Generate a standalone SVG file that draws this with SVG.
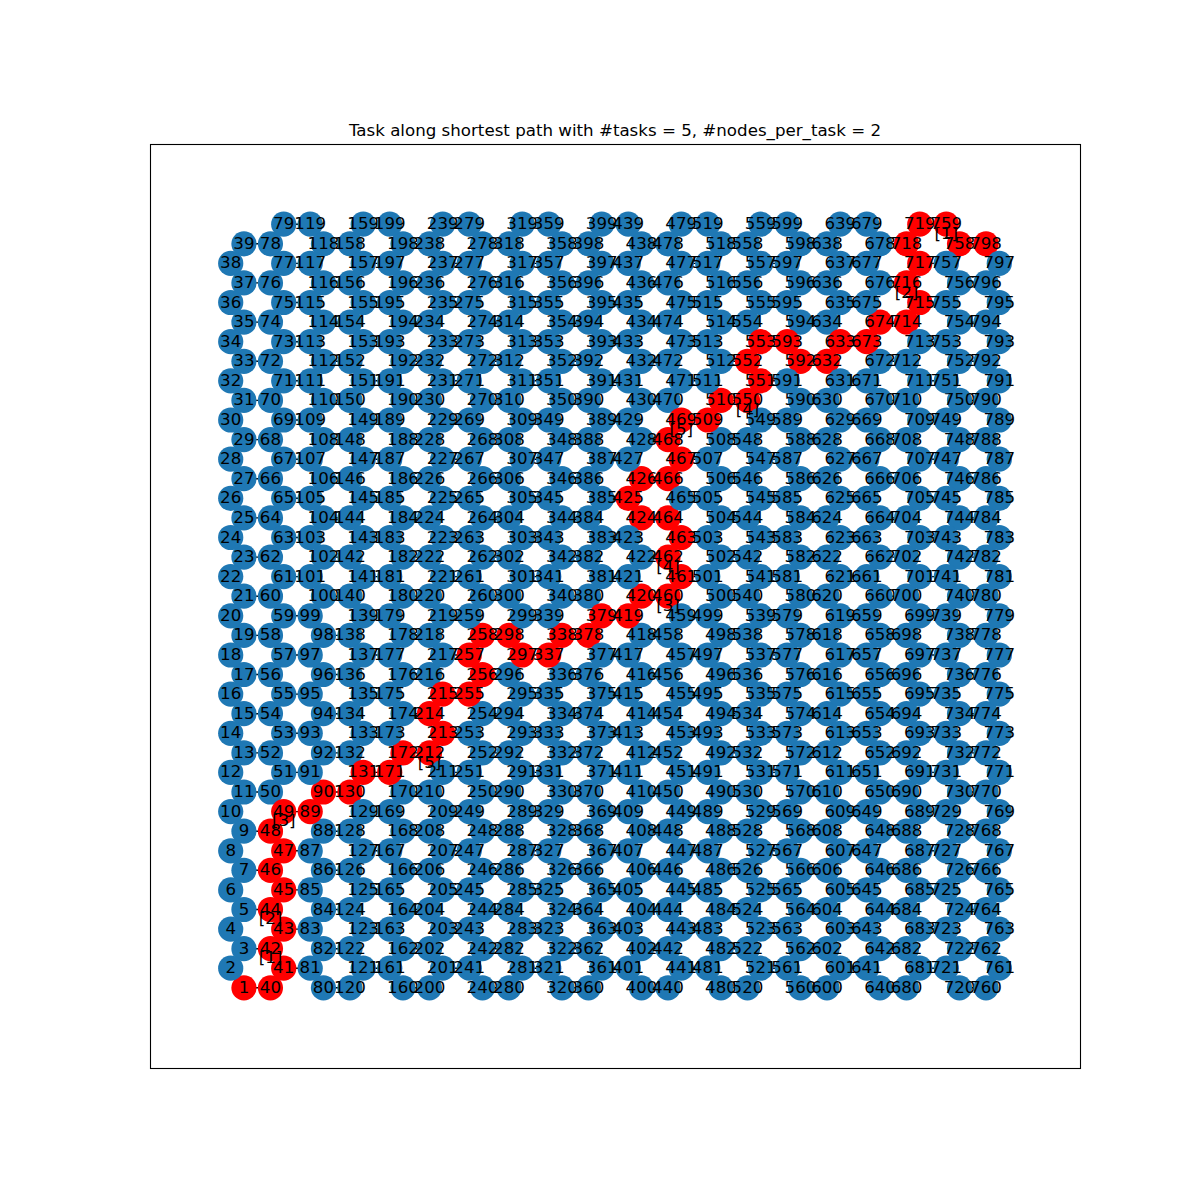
<svg xmlns="http://www.w3.org/2000/svg" xmlns:xlink="http://www.w3.org/1999/xlink" width="1200" height="1200" viewBox="0 0 1200 1200">
<style>
text{font-family:"DejaVu Sans","Liberation Sans",sans-serif;font-size:16.67px;text-anchor:middle;fill:#000}
#nodes circle{r:12.6px;fill:#1f78b4}
#nodes .r circle{fill:#ff0000}
#nodes text{transform:translateY(5px)}
.y0{transform:translateY(987.8px)}.y1{transform:translateY(968.2px)}.y2{transform:translateY(948.7px)}.y3{transform:translateY(929.1px)}.y4{transform:translateY(909.5px)}.y5{transform:translateY(889.9px)}.y6{transform:translateY(870.3px)}.y7{transform:translateY(850.8px)}.y8{transform:translateY(831.2px)}.y9{transform:translateY(811.6px)}
.y10{transform:translateY(792px)}.y11{transform:translateY(772.4px)}.y12{transform:translateY(752.9px)}.y13{transform:translateY(733.3px)}.y14{transform:translateY(713.7px)}.y15{transform:translateY(694.1px)}.y16{transform:translateY(674.5px)}.y17{transform:translateY(655px)}.y18{transform:translateY(635.4px)}.y19{transform:translateY(615.8px)}
.y20{transform:translateY(596.2px)}.y21{transform:translateY(576.6px)}.y22{transform:translateY(557.1px)}.y23{transform:translateY(537.5px)}.y24{transform:translateY(517.9px)}.y25{transform:translateY(498.3px)}.y26{transform:translateY(478.7px)}.y27{transform:translateY(459.2px)}.y28{transform:translateY(439.6px)}.y29{transform:translateY(420px)}
.y30{transform:translateY(400.4px)}.y31{transform:translateY(380.8px)}.y32{transform:translateY(361.3px)}.y33{transform:translateY(341.7px)}.y34{transform:translateY(322.1px)}.y35{transform:translateY(302.5px)}.y36{transform:translateY(282.9px)}.y37{transform:translateY(263.4px)}.y38{transform:translateY(243.8px)}.y39{transform:translateY(224.2px)}
</style>
<defs>
<path id="za" fill="none" stroke="#000" stroke-width="1.39" d="M0 987.8l-13.25-19.58 13.25-19.58 -13.25-19.58 13.25-19.58 -13.25-19.58 13.25-19.58 -13.25-19.58 13.25-19.58 -13.25-19.58 13.25-19.58 -13.25-19.58 13.25-19.58 -13.25-19.58 13.25-19.58 -13.25-19.58 13.25-19.58 -13.25-19.58 13.25-19.58 -13.25-19.58 13.25-19.58 -13.25-19.58 13.25-19.58 -13.25-19.58 13.25-19.58 -13.25-19.58 13.25-19.58 -13.25-19.58 13.25-19.58 -13.25-19.58 13.25-19.58 -13.25-19.58 13.25-19.58 -13.25-19.58 13.25-19.58 -13.25-19.58 13.25-19.58 -13.25-19.58 13.25-19.58"/>
<path id="zb" fill="none" stroke="#000" stroke-width="1.39" d="M0 987.8l-13.25-19.58 13.25-19.58 -13.25-19.58 13.25-19.58 -13.25-19.58 13.25-19.58 -13.25-19.58 13.25-19.58 -13.25-19.58 13.25-19.58 -13.25-19.58 13.25-19.58 -13.25-19.58 13.25-19.58 -13.25-19.58 13.25-19.58 -13.25-19.58 13.25-19.58 -13.25-19.58 13.25-19.58 -13.25-19.58 13.25-19.58 -13.25-19.58 13.25-19.58 -13.25-19.58 13.25-19.58 -13.25-19.58 13.25-19.58 -13.25-19.58 13.25-19.58 -13.25-19.58 13.25-19.58 -13.25-19.58 13.25-19.58 -13.25-19.58 13.25-19.58 -13.25-19.58 13.25-19.58 -13.25-19.58"/>
<path id="re" fill="none" stroke="#000" stroke-width="1.39" d="M0 987.8h26.5M0 948.7h26.5M0 909.5h26.5M0 870.3h26.5M0 831.2h26.5M0 792h26.5M0 752.9h26.5M0 713.7h26.5M0 674.5h26.5M0 635.4h26.5M0 596.2h26.5M0 557.1h26.5M0 517.9h26.5M0 478.7h26.5M0 439.6h26.5M0 400.4h26.5M0 361.3h26.5M0 322.1h26.5M0 282.9h26.5M0 243.8h26.5"/>
<path id="ro" fill="none" stroke="#000" stroke-width="1.39" d="M0 968.2h26.5M0 929.1h26.5M0 889.9h26.5M0 850.8h26.5M0 811.6h26.5M0 772.4h26.5M0 733.3h26.5M0 694.1h26.5M0 655h26.5M0 615.8h26.5M0 576.6h26.5M0 537.5h26.5M0 498.3h26.5M0 459.2h26.5M0 420h26.5M0 380.8h26.5M0 341.7h26.5M0 302.5h26.5M0 263.4h26.5M0 224.2h26.5"/>
</defs>
<rect width="1200" height="1200" fill="#fff"/>
<rect x="150.5" y="144.5" width="930" height="924" fill="none" stroke="#000" stroke-width="1.1"/>
<text id="title" x="615" y="135.7">Task along shortest path with #tasks = 5, #nodes_per_task = 2</text>
<g id="edges">
<use href="#za" x="243.95"/>
<use href="#zb" transform="translate(270.45) scale(-1 1)"/>
<use href="#zb" x="323.46"/>
<use href="#zb" transform="translate(349.96) scale(-1 1)"/>
<use href="#zb" x="402.97"/>
<use href="#zb" transform="translate(429.47) scale(-1 1)"/>
<use href="#zb" x="482.48"/>
<use href="#zb" transform="translate(508.98) scale(-1 1)"/>
<use href="#zb" x="561.99"/>
<use href="#zb" transform="translate(588.49) scale(-1 1)"/>
<use href="#zb" x="641.5"/>
<use href="#zb" transform="translate(668) scale(-1 1)"/>
<use href="#zb" x="721.01"/>
<use href="#zb" transform="translate(747.51) scale(-1 1)"/>
<use href="#zb" x="800.51"/>
<use href="#zb" transform="translate(827.02) scale(-1 1)"/>
<use href="#zb" x="880.02"/>
<use href="#zb" transform="translate(906.53) scale(-1 1)"/>
<use href="#zb" x="959.53"/>
<use href="#za" transform="translate(986.04) scale(-1 1)"/>
<use href="#re" x="243.95"/><use href="#re" x="323.46"/><use href="#re" x="402.97"/><use href="#re" x="482.48"/><use href="#re" x="561.99"/><use href="#re" x="641.5"/><use href="#re" x="721.01"/><use href="#re" x="800.51"/><use href="#re" x="880.02"/><use href="#re" x="959.53"/>
<use href="#ro" x="283.71"/><use href="#ro" x="363.22"/><use href="#ro" x="442.72"/><use href="#ro" x="522.23"/><use href="#ro" x="601.74"/><use href="#ro" x="681.25"/><use href="#ro" x="760.76"/><use href="#ro" x="840.27"/><use href="#ro" x="919.78"/>
</g>
<g id="nodes">
<g transform="translate(243.95)">
<g id="n1" class="y0 r"><circle/><text>1</text></g><g id="n3" class="y2"><circle/><text>3</text></g><g id="n5" class="y4"><circle/><text>5</text></g><g id="n7" class="y6"><circle/><text>7</text></g><g id="n9" class="y8"><circle/><text>9</text></g><g id="n11" class="y10"><circle/><text>11</text></g><g id="n13" class="y12"><circle/><text>13</text></g><g id="n15" class="y14"><circle/><text>15</text></g><g id="n17" class="y16"><circle/><text>17</text></g><g id="n19" class="y18"><circle/><text>19</text></g><g id="n21" class="y20"><circle/><text>21</text></g><g id="n23" class="y22"><circle/><text>23</text></g><g id="n25" class="y24"><circle/><text>25</text></g><g id="n27" class="y26"><circle/><text>27</text></g><g id="n29" class="y28"><circle/><text>29</text></g><g id="n31" class="y30"><circle/><text>31</text></g><g id="n33" class="y32"><circle/><text>33</text></g><g id="n35" class="y34"><circle/><text>35</text></g><g id="n37" class="y36"><circle/><text>37</text></g><g id="n39" class="y38"><circle/><text>39</text></g>
</g>
<g transform="translate(230.7)">
<g id="n2" class="y1"><circle/><text>2</text></g><g id="n4" class="y3"><circle/><text>4</text></g><g id="n6" class="y5"><circle/><text>6</text></g><g id="n8" class="y7"><circle/><text>8</text></g><g id="n10" class="y9"><circle/><text>10</text></g><g id="n12" class="y11"><circle/><text>12</text></g><g id="n14" class="y13"><circle/><text>14</text></g><g id="n16" class="y15"><circle/><text>16</text></g><g id="n18" class="y17"><circle/><text>18</text></g><g id="n20" class="y19"><circle/><text>20</text></g><g id="n22" class="y21"><circle/><text>22</text></g><g id="n24" class="y23"><circle/><text>24</text></g><g id="n26" class="y25"><circle/><text>26</text></g><g id="n28" class="y27"><circle/><text>28</text></g><g id="n30" class="y29"><circle/><text>30</text></g><g id="n32" class="y31"><circle/><text>32</text></g><g id="n34" class="y33"><circle/><text>34</text></g><g id="n36" class="y35"><circle/><text>36</text></g><g id="n38" class="y37"><circle/><text>38</text></g>
</g>
<g transform="translate(270.45)">
<g id="n40" class="y0 r"><circle/><text>40</text></g><g id="n42" class="y2 r"><circle/><text>42</text></g><g id="n44" class="y4 r"><circle/><text>44</text></g><g id="n46" class="y6 r"><circle/><text>46</text></g><g id="n48" class="y8 r"><circle/><text>48</text></g><g id="n50" class="y10"><circle/><text>50</text></g><g id="n52" class="y12"><circle/><text>52</text></g><g id="n54" class="y14"><circle/><text>54</text></g><g id="n56" class="y16"><circle/><text>56</text></g><g id="n58" class="y18"><circle/><text>58</text></g><g id="n60" class="y20"><circle/><text>60</text></g><g id="n62" class="y22"><circle/><text>62</text></g><g id="n64" class="y24"><circle/><text>64</text></g><g id="n66" class="y26"><circle/><text>66</text></g><g id="n68" class="y28"><circle/><text>68</text></g><g id="n70" class="y30"><circle/><text>70</text></g><g id="n72" class="y32"><circle/><text>72</text></g><g id="n74" class="y34"><circle/><text>74</text></g><g id="n76" class="y36"><circle/><text>76</text></g><g id="n78" class="y38"><circle/><text>78</text></g>
</g>
<g transform="translate(283.71)">
<g id="n41" class="y1 r"><circle/><text>41</text></g><g id="n43" class="y3 r"><circle/><text>43</text></g><g id="n45" class="y5 r"><circle/><text>45</text></g><g id="n47" class="y7 r"><circle/><text>47</text></g><g id="n49" class="y9 r"><circle/><text>49</text></g><g id="n51" class="y11"><circle/><text>51</text></g><g id="n53" class="y13"><circle/><text>53</text></g><g id="n55" class="y15"><circle/><text>55</text></g><g id="n57" class="y17"><circle/><text>57</text></g><g id="n59" class="y19"><circle/><text>59</text></g><g id="n61" class="y21"><circle/><text>61</text></g><g id="n63" class="y23"><circle/><text>63</text></g><g id="n65" class="y25"><circle/><text>65</text></g><g id="n67" class="y27"><circle/><text>67</text></g><g id="n69" class="y29"><circle/><text>69</text></g><g id="n71" class="y31"><circle/><text>71</text></g><g id="n73" class="y33"><circle/><text>73</text></g><g id="n75" class="y35"><circle/><text>75</text></g><g id="n77" class="y37"><circle/><text>77</text></g><g id="n79" class="y39"><circle/><text>79</text></g>
</g>
<g transform="translate(323.46)">
<g id="n80" class="y0"><circle/><text>80</text></g><g id="n82" class="y2"><circle/><text>82</text></g><g id="n84" class="y4"><circle/><text>84</text></g><g id="n86" class="y6"><circle/><text>86</text></g><g id="n88" class="y8"><circle/><text>88</text></g><g id="n90" class="y10 r"><circle/><text>90</text></g><g id="n92" class="y12"><circle/><text>92</text></g><g id="n94" class="y14"><circle/><text>94</text></g><g id="n96" class="y16"><circle/><text>96</text></g><g id="n98" class="y18"><circle/><text>98</text></g><g id="n100" class="y20"><circle/><text>100</text></g><g id="n102" class="y22"><circle/><text>102</text></g><g id="n104" class="y24"><circle/><text>104</text></g><g id="n106" class="y26"><circle/><text>106</text></g><g id="n108" class="y28"><circle/><text>108</text></g><g id="n110" class="y30"><circle/><text>110</text></g><g id="n112" class="y32"><circle/><text>112</text></g><g id="n114" class="y34"><circle/><text>114</text></g><g id="n116" class="y36"><circle/><text>116</text></g><g id="n118" class="y38"><circle/><text>118</text></g>
</g>
<g transform="translate(310.21)">
<g id="n81" class="y1"><circle/><text>81</text></g><g id="n83" class="y3"><circle/><text>83</text></g><g id="n85" class="y5"><circle/><text>85</text></g><g id="n87" class="y7"><circle/><text>87</text></g><g id="n89" class="y9 r"><circle/><text>89</text></g><g id="n91" class="y11"><circle/><text>91</text></g><g id="n93" class="y13"><circle/><text>93</text></g><g id="n95" class="y15"><circle/><text>95</text></g><g id="n97" class="y17"><circle/><text>97</text></g><g id="n99" class="y19"><circle/><text>99</text></g><g id="n101" class="y21"><circle/><text>101</text></g><g id="n103" class="y23"><circle/><text>103</text></g><g id="n105" class="y25"><circle/><text>105</text></g><g id="n107" class="y27"><circle/><text>107</text></g><g id="n109" class="y29"><circle/><text>109</text></g><g id="n111" class="y31"><circle/><text>111</text></g><g id="n113" class="y33"><circle/><text>113</text></g><g id="n115" class="y35"><circle/><text>115</text></g><g id="n117" class="y37"><circle/><text>117</text></g><g id="n119" class="y39"><circle/><text>119</text></g>
</g>
<g transform="translate(349.96)">
<g id="n120" class="y0"><circle/><text>120</text></g><g id="n122" class="y2"><circle/><text>122</text></g><g id="n124" class="y4"><circle/><text>124</text></g><g id="n126" class="y6"><circle/><text>126</text></g><g id="n128" class="y8"><circle/><text>128</text></g><g id="n130" class="y10 r"><circle/><text>130</text></g><g id="n132" class="y12"><circle/><text>132</text></g><g id="n134" class="y14"><circle/><text>134</text></g><g id="n136" class="y16"><circle/><text>136</text></g><g id="n138" class="y18"><circle/><text>138</text></g><g id="n140" class="y20"><circle/><text>140</text></g><g id="n142" class="y22"><circle/><text>142</text></g><g id="n144" class="y24"><circle/><text>144</text></g><g id="n146" class="y26"><circle/><text>146</text></g><g id="n148" class="y28"><circle/><text>148</text></g><g id="n150" class="y30"><circle/><text>150</text></g><g id="n152" class="y32"><circle/><text>152</text></g><g id="n154" class="y34"><circle/><text>154</text></g><g id="n156" class="y36"><circle/><text>156</text></g><g id="n158" class="y38"><circle/><text>158</text></g>
</g>
<g transform="translate(363.22)">
<g id="n121" class="y1"><circle/><text>121</text></g><g id="n123" class="y3"><circle/><text>123</text></g><g id="n125" class="y5"><circle/><text>125</text></g><g id="n127" class="y7"><circle/><text>127</text></g><g id="n129" class="y9"><circle/><text>129</text></g><g id="n131" class="y11 r"><circle/><text>131</text></g><g id="n133" class="y13"><circle/><text>133</text></g><g id="n135" class="y15"><circle/><text>135</text></g><g id="n137" class="y17"><circle/><text>137</text></g><g id="n139" class="y19"><circle/><text>139</text></g><g id="n141" class="y21"><circle/><text>141</text></g><g id="n143" class="y23"><circle/><text>143</text></g><g id="n145" class="y25"><circle/><text>145</text></g><g id="n147" class="y27"><circle/><text>147</text></g><g id="n149" class="y29"><circle/><text>149</text></g><g id="n151" class="y31"><circle/><text>151</text></g><g id="n153" class="y33"><circle/><text>153</text></g><g id="n155" class="y35"><circle/><text>155</text></g><g id="n157" class="y37"><circle/><text>157</text></g><g id="n159" class="y39"><circle/><text>159</text></g>
</g>
<g transform="translate(402.97)">
<g id="n160" class="y0"><circle/><text>160</text></g><g id="n162" class="y2"><circle/><text>162</text></g><g id="n164" class="y4"><circle/><text>164</text></g><g id="n166" class="y6"><circle/><text>166</text></g><g id="n168" class="y8"><circle/><text>168</text></g><g id="n170" class="y10"><circle/><text>170</text></g><g id="n172" class="y12 r"><circle/><text>172</text></g><g id="n174" class="y14"><circle/><text>174</text></g><g id="n176" class="y16"><circle/><text>176</text></g><g id="n178" class="y18"><circle/><text>178</text></g><g id="n180" class="y20"><circle/><text>180</text></g><g id="n182" class="y22"><circle/><text>182</text></g><g id="n184" class="y24"><circle/><text>184</text></g><g id="n186" class="y26"><circle/><text>186</text></g><g id="n188" class="y28"><circle/><text>188</text></g><g id="n190" class="y30"><circle/><text>190</text></g><g id="n192" class="y32"><circle/><text>192</text></g><g id="n194" class="y34"><circle/><text>194</text></g><g id="n196" class="y36"><circle/><text>196</text></g><g id="n198" class="y38"><circle/><text>198</text></g>
</g>
<g transform="translate(389.72)">
<g id="n161" class="y1"><circle/><text>161</text></g><g id="n163" class="y3"><circle/><text>163</text></g><g id="n165" class="y5"><circle/><text>165</text></g><g id="n167" class="y7"><circle/><text>167</text></g><g id="n169" class="y9"><circle/><text>169</text></g><g id="n171" class="y11 r"><circle/><text>171</text></g><g id="n173" class="y13"><circle/><text>173</text></g><g id="n175" class="y15"><circle/><text>175</text></g><g id="n177" class="y17"><circle/><text>177</text></g><g id="n179" class="y19"><circle/><text>179</text></g><g id="n181" class="y21"><circle/><text>181</text></g><g id="n183" class="y23"><circle/><text>183</text></g><g id="n185" class="y25"><circle/><text>185</text></g><g id="n187" class="y27"><circle/><text>187</text></g><g id="n189" class="y29"><circle/><text>189</text></g><g id="n191" class="y31"><circle/><text>191</text></g><g id="n193" class="y33"><circle/><text>193</text></g><g id="n195" class="y35"><circle/><text>195</text></g><g id="n197" class="y37"><circle/><text>197</text></g><g id="n199" class="y39"><circle/><text>199</text></g>
</g>
<g transform="translate(429.47)">
<g id="n200" class="y0"><circle/><text>200</text></g><g id="n202" class="y2"><circle/><text>202</text></g><g id="n204" class="y4"><circle/><text>204</text></g><g id="n206" class="y6"><circle/><text>206</text></g><g id="n208" class="y8"><circle/><text>208</text></g><g id="n210" class="y10"><circle/><text>210</text></g><g id="n212" class="y12 r"><circle/><text>212</text></g><g id="n214" class="y14 r"><circle/><text>214</text></g><g id="n216" class="y16"><circle/><text>216</text></g><g id="n218" class="y18"><circle/><text>218</text></g><g id="n220" class="y20"><circle/><text>220</text></g><g id="n222" class="y22"><circle/><text>222</text></g><g id="n224" class="y24"><circle/><text>224</text></g><g id="n226" class="y26"><circle/><text>226</text></g><g id="n228" class="y28"><circle/><text>228</text></g><g id="n230" class="y30"><circle/><text>230</text></g><g id="n232" class="y32"><circle/><text>232</text></g><g id="n234" class="y34"><circle/><text>234</text></g><g id="n236" class="y36"><circle/><text>236</text></g><g id="n238" class="y38"><circle/><text>238</text></g>
</g>
<g transform="translate(442.72)">
<g id="n201" class="y1"><circle/><text>201</text></g><g id="n203" class="y3"><circle/><text>203</text></g><g id="n205" class="y5"><circle/><text>205</text></g><g id="n207" class="y7"><circle/><text>207</text></g><g id="n209" class="y9"><circle/><text>209</text></g><g id="n211" class="y11"><circle/><text>211</text></g><g id="n213" class="y13 r"><circle/><text>213</text></g><g id="n215" class="y15 r"><circle/><text>215</text></g><g id="n217" class="y17"><circle/><text>217</text></g><g id="n219" class="y19"><circle/><text>219</text></g><g id="n221" class="y21"><circle/><text>221</text></g><g id="n223" class="y23"><circle/><text>223</text></g><g id="n225" class="y25"><circle/><text>225</text></g><g id="n227" class="y27"><circle/><text>227</text></g><g id="n229" class="y29"><circle/><text>229</text></g><g id="n231" class="y31"><circle/><text>231</text></g><g id="n233" class="y33"><circle/><text>233</text></g><g id="n235" class="y35"><circle/><text>235</text></g><g id="n237" class="y37"><circle/><text>237</text></g><g id="n239" class="y39"><circle/><text>239</text></g>
</g>
<g transform="translate(482.48)">
<g id="n240" class="y0"><circle/><text>240</text></g><g id="n242" class="y2"><circle/><text>242</text></g><g id="n244" class="y4"><circle/><text>244</text></g><g id="n246" class="y6"><circle/><text>246</text></g><g id="n248" class="y8"><circle/><text>248</text></g><g id="n250" class="y10"><circle/><text>250</text></g><g id="n252" class="y12"><circle/><text>252</text></g><g id="n254" class="y14"><circle/><text>254</text></g><g id="n256" class="y16 r"><circle/><text>256</text></g><g id="n258" class="y18 r"><circle/><text>258</text></g><g id="n260" class="y20"><circle/><text>260</text></g><g id="n262" class="y22"><circle/><text>262</text></g><g id="n264" class="y24"><circle/><text>264</text></g><g id="n266" class="y26"><circle/><text>266</text></g><g id="n268" class="y28"><circle/><text>268</text></g><g id="n270" class="y30"><circle/><text>270</text></g><g id="n272" class="y32"><circle/><text>272</text></g><g id="n274" class="y34"><circle/><text>274</text></g><g id="n276" class="y36"><circle/><text>276</text></g><g id="n278" class="y38"><circle/><text>278</text></g>
</g>
<g transform="translate(469.23)">
<g id="n241" class="y1"><circle/><text>241</text></g><g id="n243" class="y3"><circle/><text>243</text></g><g id="n245" class="y5"><circle/><text>245</text></g><g id="n247" class="y7"><circle/><text>247</text></g><g id="n249" class="y9"><circle/><text>249</text></g><g id="n251" class="y11"><circle/><text>251</text></g><g id="n253" class="y13"><circle/><text>253</text></g><g id="n255" class="y15 r"><circle/><text>255</text></g><g id="n257" class="y17 r"><circle/><text>257</text></g><g id="n259" class="y19"><circle/><text>259</text></g><g id="n261" class="y21"><circle/><text>261</text></g><g id="n263" class="y23"><circle/><text>263</text></g><g id="n265" class="y25"><circle/><text>265</text></g><g id="n267" class="y27"><circle/><text>267</text></g><g id="n269" class="y29"><circle/><text>269</text></g><g id="n271" class="y31"><circle/><text>271</text></g><g id="n273" class="y33"><circle/><text>273</text></g><g id="n275" class="y35"><circle/><text>275</text></g><g id="n277" class="y37"><circle/><text>277</text></g><g id="n279" class="y39"><circle/><text>279</text></g>
</g>
<g transform="translate(508.98)">
<g id="n280" class="y0"><circle/><text>280</text></g><g id="n282" class="y2"><circle/><text>282</text></g><g id="n284" class="y4"><circle/><text>284</text></g><g id="n286" class="y6"><circle/><text>286</text></g><g id="n288" class="y8"><circle/><text>288</text></g><g id="n290" class="y10"><circle/><text>290</text></g><g id="n292" class="y12"><circle/><text>292</text></g><g id="n294" class="y14"><circle/><text>294</text></g><g id="n296" class="y16"><circle/><text>296</text></g><g id="n298" class="y18 r"><circle/><text>298</text></g><g id="n300" class="y20"><circle/><text>300</text></g><g id="n302" class="y22"><circle/><text>302</text></g><g id="n304" class="y24"><circle/><text>304</text></g><g id="n306" class="y26"><circle/><text>306</text></g><g id="n308" class="y28"><circle/><text>308</text></g><g id="n310" class="y30"><circle/><text>310</text></g><g id="n312" class="y32"><circle/><text>312</text></g><g id="n314" class="y34"><circle/><text>314</text></g><g id="n316" class="y36"><circle/><text>316</text></g><g id="n318" class="y38"><circle/><text>318</text></g>
</g>
<g transform="translate(522.23)">
<g id="n281" class="y1"><circle/><text>281</text></g><g id="n283" class="y3"><circle/><text>283</text></g><g id="n285" class="y5"><circle/><text>285</text></g><g id="n287" class="y7"><circle/><text>287</text></g><g id="n289" class="y9"><circle/><text>289</text></g><g id="n291" class="y11"><circle/><text>291</text></g><g id="n293" class="y13"><circle/><text>293</text></g><g id="n295" class="y15"><circle/><text>295</text></g><g id="n297" class="y17 r"><circle/><text>297</text></g><g id="n299" class="y19"><circle/><text>299</text></g><g id="n301" class="y21"><circle/><text>301</text></g><g id="n303" class="y23"><circle/><text>303</text></g><g id="n305" class="y25"><circle/><text>305</text></g><g id="n307" class="y27"><circle/><text>307</text></g><g id="n309" class="y29"><circle/><text>309</text></g><g id="n311" class="y31"><circle/><text>311</text></g><g id="n313" class="y33"><circle/><text>313</text></g><g id="n315" class="y35"><circle/><text>315</text></g><g id="n317" class="y37"><circle/><text>317</text></g><g id="n319" class="y39"><circle/><text>319</text></g>
</g>
<g transform="translate(561.99)">
<g id="n320" class="y0"><circle/><text>320</text></g><g id="n322" class="y2"><circle/><text>322</text></g><g id="n324" class="y4"><circle/><text>324</text></g><g id="n326" class="y6"><circle/><text>326</text></g><g id="n328" class="y8"><circle/><text>328</text></g><g id="n330" class="y10"><circle/><text>330</text></g><g id="n332" class="y12"><circle/><text>332</text></g><g id="n334" class="y14"><circle/><text>334</text></g><g id="n336" class="y16"><circle/><text>336</text></g><g id="n338" class="y18 r"><circle/><text>338</text></g><g id="n340" class="y20"><circle/><text>340</text></g><g id="n342" class="y22"><circle/><text>342</text></g><g id="n344" class="y24"><circle/><text>344</text></g><g id="n346" class="y26"><circle/><text>346</text></g><g id="n348" class="y28"><circle/><text>348</text></g><g id="n350" class="y30"><circle/><text>350</text></g><g id="n352" class="y32"><circle/><text>352</text></g><g id="n354" class="y34"><circle/><text>354</text></g><g id="n356" class="y36"><circle/><text>356</text></g><g id="n358" class="y38"><circle/><text>358</text></g>
</g>
<g transform="translate(548.74)">
<g id="n321" class="y1"><circle/><text>321</text></g><g id="n323" class="y3"><circle/><text>323</text></g><g id="n325" class="y5"><circle/><text>325</text></g><g id="n327" class="y7"><circle/><text>327</text></g><g id="n329" class="y9"><circle/><text>329</text></g><g id="n331" class="y11"><circle/><text>331</text></g><g id="n333" class="y13"><circle/><text>333</text></g><g id="n335" class="y15"><circle/><text>335</text></g><g id="n337" class="y17 r"><circle/><text>337</text></g><g id="n339" class="y19"><circle/><text>339</text></g><g id="n341" class="y21"><circle/><text>341</text></g><g id="n343" class="y23"><circle/><text>343</text></g><g id="n345" class="y25"><circle/><text>345</text></g><g id="n347" class="y27"><circle/><text>347</text></g><g id="n349" class="y29"><circle/><text>349</text></g><g id="n351" class="y31"><circle/><text>351</text></g><g id="n353" class="y33"><circle/><text>353</text></g><g id="n355" class="y35"><circle/><text>355</text></g><g id="n357" class="y37"><circle/><text>357</text></g><g id="n359" class="y39"><circle/><text>359</text></g>
</g>
<g transform="translate(588.49)">
<g id="n360" class="y0"><circle/><text>360</text></g><g id="n362" class="y2"><circle/><text>362</text></g><g id="n364" class="y4"><circle/><text>364</text></g><g id="n366" class="y6"><circle/><text>366</text></g><g id="n368" class="y8"><circle/><text>368</text></g><g id="n370" class="y10"><circle/><text>370</text></g><g id="n372" class="y12"><circle/><text>372</text></g><g id="n374" class="y14"><circle/><text>374</text></g><g id="n376" class="y16"><circle/><text>376</text></g><g id="n378" class="y18 r"><circle/><text>378</text></g><g id="n380" class="y20"><circle/><text>380</text></g><g id="n382" class="y22"><circle/><text>382</text></g><g id="n384" class="y24"><circle/><text>384</text></g><g id="n386" class="y26"><circle/><text>386</text></g><g id="n388" class="y28"><circle/><text>388</text></g><g id="n390" class="y30"><circle/><text>390</text></g><g id="n392" class="y32"><circle/><text>392</text></g><g id="n394" class="y34"><circle/><text>394</text></g><g id="n396" class="y36"><circle/><text>396</text></g><g id="n398" class="y38"><circle/><text>398</text></g>
</g>
<g transform="translate(601.74)">
<g id="n361" class="y1"><circle/><text>361</text></g><g id="n363" class="y3"><circle/><text>363</text></g><g id="n365" class="y5"><circle/><text>365</text></g><g id="n367" class="y7"><circle/><text>367</text></g><g id="n369" class="y9"><circle/><text>369</text></g><g id="n371" class="y11"><circle/><text>371</text></g><g id="n373" class="y13"><circle/><text>373</text></g><g id="n375" class="y15"><circle/><text>375</text></g><g id="n377" class="y17"><circle/><text>377</text></g><g id="n379" class="y19 r"><circle/><text>379</text></g><g id="n381" class="y21"><circle/><text>381</text></g><g id="n383" class="y23"><circle/><text>383</text></g><g id="n385" class="y25"><circle/><text>385</text></g><g id="n387" class="y27"><circle/><text>387</text></g><g id="n389" class="y29"><circle/><text>389</text></g><g id="n391" class="y31"><circle/><text>391</text></g><g id="n393" class="y33"><circle/><text>393</text></g><g id="n395" class="y35"><circle/><text>395</text></g><g id="n397" class="y37"><circle/><text>397</text></g><g id="n399" class="y39"><circle/><text>399</text></g>
</g>
<g transform="translate(641.5)">
<g id="n400" class="y0"><circle/><text>400</text></g><g id="n402" class="y2"><circle/><text>402</text></g><g id="n404" class="y4"><circle/><text>404</text></g><g id="n406" class="y6"><circle/><text>406</text></g><g id="n408" class="y8"><circle/><text>408</text></g><g id="n410" class="y10"><circle/><text>410</text></g><g id="n412" class="y12"><circle/><text>412</text></g><g id="n414" class="y14"><circle/><text>414</text></g><g id="n416" class="y16"><circle/><text>416</text></g><g id="n418" class="y18"><circle/><text>418</text></g><g id="n420" class="y20 r"><circle/><text>420</text></g><g id="n422" class="y22"><circle/><text>422</text></g><g id="n424" class="y24 r"><circle/><text>424</text></g><g id="n426" class="y26 r"><circle/><text>426</text></g><g id="n428" class="y28"><circle/><text>428</text></g><g id="n430" class="y30"><circle/><text>430</text></g><g id="n432" class="y32"><circle/><text>432</text></g><g id="n434" class="y34"><circle/><text>434</text></g><g id="n436" class="y36"><circle/><text>436</text></g><g id="n438" class="y38"><circle/><text>438</text></g>
</g>
<g transform="translate(628.25)">
<g id="n401" class="y1"><circle/><text>401</text></g><g id="n403" class="y3"><circle/><text>403</text></g><g id="n405" class="y5"><circle/><text>405</text></g><g id="n407" class="y7"><circle/><text>407</text></g><g id="n409" class="y9"><circle/><text>409</text></g><g id="n411" class="y11"><circle/><text>411</text></g><g id="n413" class="y13"><circle/><text>413</text></g><g id="n415" class="y15"><circle/><text>415</text></g><g id="n417" class="y17"><circle/><text>417</text></g><g id="n419" class="y19 r"><circle/><text>419</text></g><g id="n421" class="y21"><circle/><text>421</text></g><g id="n423" class="y23"><circle/><text>423</text></g><g id="n425" class="y25 r"><circle/><text>425</text></g><g id="n427" class="y27"><circle/><text>427</text></g><g id="n429" class="y29"><circle/><text>429</text></g><g id="n431" class="y31"><circle/><text>431</text></g><g id="n433" class="y33"><circle/><text>433</text></g><g id="n435" class="y35"><circle/><text>435</text></g><g id="n437" class="y37"><circle/><text>437</text></g><g id="n439" class="y39"><circle/><text>439</text></g>
</g>
<g transform="translate(668)">
<g id="n440" class="y0"><circle/><text>440</text></g><g id="n442" class="y2"><circle/><text>442</text></g><g id="n444" class="y4"><circle/><text>444</text></g><g id="n446" class="y6"><circle/><text>446</text></g><g id="n448" class="y8"><circle/><text>448</text></g><g id="n450" class="y10"><circle/><text>450</text></g><g id="n452" class="y12"><circle/><text>452</text></g><g id="n454" class="y14"><circle/><text>454</text></g><g id="n456" class="y16"><circle/><text>456</text></g><g id="n458" class="y18"><circle/><text>458</text></g><g id="n460" class="y20 r"><circle/><text>460</text></g><g id="n462" class="y22 r"><circle/><text>462</text></g><g id="n464" class="y24 r"><circle/><text>464</text></g><g id="n466" class="y26 r"><circle/><text>466</text></g><g id="n468" class="y28 r"><circle/><text>468</text></g><g id="n470" class="y30"><circle/><text>470</text></g><g id="n472" class="y32"><circle/><text>472</text></g><g id="n474" class="y34"><circle/><text>474</text></g><g id="n476" class="y36"><circle/><text>476</text></g><g id="n478" class="y38"><circle/><text>478</text></g>
</g>
<g transform="translate(681.25)">
<g id="n441" class="y1"><circle/><text>441</text></g><g id="n443" class="y3"><circle/><text>443</text></g><g id="n445" class="y5"><circle/><text>445</text></g><g id="n447" class="y7"><circle/><text>447</text></g><g id="n449" class="y9"><circle/><text>449</text></g><g id="n451" class="y11"><circle/><text>451</text></g><g id="n453" class="y13"><circle/><text>453</text></g><g id="n455" class="y15"><circle/><text>455</text></g><g id="n457" class="y17"><circle/><text>457</text></g><g id="n459" class="y19"><circle/><text>459</text></g><g id="n461" class="y21 r"><circle/><text>461</text></g><g id="n463" class="y23 r"><circle/><text>463</text></g><g id="n465" class="y25"><circle/><text>465</text></g><g id="n467" class="y27 r"><circle/><text>467</text></g><g id="n469" class="y29 r"><circle/><text>469</text></g><g id="n471" class="y31"><circle/><text>471</text></g><g id="n473" class="y33"><circle/><text>473</text></g><g id="n475" class="y35"><circle/><text>475</text></g><g id="n477" class="y37"><circle/><text>477</text></g><g id="n479" class="y39"><circle/><text>479</text></g>
</g>
<g transform="translate(721.01)">
<g id="n480" class="y0"><circle/><text>480</text></g><g id="n482" class="y2"><circle/><text>482</text></g><g id="n484" class="y4"><circle/><text>484</text></g><g id="n486" class="y6"><circle/><text>486</text></g><g id="n488" class="y8"><circle/><text>488</text></g><g id="n490" class="y10"><circle/><text>490</text></g><g id="n492" class="y12"><circle/><text>492</text></g><g id="n494" class="y14"><circle/><text>494</text></g><g id="n496" class="y16"><circle/><text>496</text></g><g id="n498" class="y18"><circle/><text>498</text></g><g id="n500" class="y20"><circle/><text>500</text></g><g id="n502" class="y22"><circle/><text>502</text></g><g id="n504" class="y24"><circle/><text>504</text></g><g id="n506" class="y26"><circle/><text>506</text></g><g id="n508" class="y28"><circle/><text>508</text></g><g id="n510" class="y30 r"><circle/><text>510</text></g><g id="n512" class="y32"><circle/><text>512</text></g><g id="n514" class="y34"><circle/><text>514</text></g><g id="n516" class="y36"><circle/><text>516</text></g><g id="n518" class="y38"><circle/><text>518</text></g>
</g>
<g transform="translate(707.75)">
<g id="n481" class="y1"><circle/><text>481</text></g><g id="n483" class="y3"><circle/><text>483</text></g><g id="n485" class="y5"><circle/><text>485</text></g><g id="n487" class="y7"><circle/><text>487</text></g><g id="n489" class="y9"><circle/><text>489</text></g><g id="n491" class="y11"><circle/><text>491</text></g><g id="n493" class="y13"><circle/><text>493</text></g><g id="n495" class="y15"><circle/><text>495</text></g><g id="n497" class="y17"><circle/><text>497</text></g><g id="n499" class="y19"><circle/><text>499</text></g><g id="n501" class="y21"><circle/><text>501</text></g><g id="n503" class="y23"><circle/><text>503</text></g><g id="n505" class="y25"><circle/><text>505</text></g><g id="n507" class="y27"><circle/><text>507</text></g><g id="n509" class="y29 r"><circle/><text>509</text></g><g id="n511" class="y31"><circle/><text>511</text></g><g id="n513" class="y33"><circle/><text>513</text></g><g id="n515" class="y35"><circle/><text>515</text></g><g id="n517" class="y37"><circle/><text>517</text></g><g id="n519" class="y39"><circle/><text>519</text></g>
</g>
<g transform="translate(747.51)">
<g id="n520" class="y0"><circle/><text>520</text></g><g id="n522" class="y2"><circle/><text>522</text></g><g id="n524" class="y4"><circle/><text>524</text></g><g id="n526" class="y6"><circle/><text>526</text></g><g id="n528" class="y8"><circle/><text>528</text></g><g id="n530" class="y10"><circle/><text>530</text></g><g id="n532" class="y12"><circle/><text>532</text></g><g id="n534" class="y14"><circle/><text>534</text></g><g id="n536" class="y16"><circle/><text>536</text></g><g id="n538" class="y18"><circle/><text>538</text></g><g id="n540" class="y20"><circle/><text>540</text></g><g id="n542" class="y22"><circle/><text>542</text></g><g id="n544" class="y24"><circle/><text>544</text></g><g id="n546" class="y26"><circle/><text>546</text></g><g id="n548" class="y28"><circle/><text>548</text></g><g id="n550" class="y30 r"><circle/><text>550</text></g><g id="n552" class="y32 r"><circle/><text>552</text></g><g id="n554" class="y34"><circle/><text>554</text></g><g id="n556" class="y36"><circle/><text>556</text></g><g id="n558" class="y38"><circle/><text>558</text></g>
</g>
<g transform="translate(760.76)">
<g id="n521" class="y1"><circle/><text>521</text></g><g id="n523" class="y3"><circle/><text>523</text></g><g id="n525" class="y5"><circle/><text>525</text></g><g id="n527" class="y7"><circle/><text>527</text></g><g id="n529" class="y9"><circle/><text>529</text></g><g id="n531" class="y11"><circle/><text>531</text></g><g id="n533" class="y13"><circle/><text>533</text></g><g id="n535" class="y15"><circle/><text>535</text></g><g id="n537" class="y17"><circle/><text>537</text></g><g id="n539" class="y19"><circle/><text>539</text></g><g id="n541" class="y21"><circle/><text>541</text></g><g id="n543" class="y23"><circle/><text>543</text></g><g id="n545" class="y25"><circle/><text>545</text></g><g id="n547" class="y27"><circle/><text>547</text></g><g id="n549" class="y29"><circle/><text>549</text></g><g id="n551" class="y31 r"><circle/><text>551</text></g><g id="n553" class="y33 r"><circle/><text>553</text></g><g id="n555" class="y35"><circle/><text>555</text></g><g id="n557" class="y37"><circle/><text>557</text></g><g id="n559" class="y39"><circle/><text>559</text></g>
</g>
<g transform="translate(800.51)">
<g id="n560" class="y0"><circle/><text>560</text></g><g id="n562" class="y2"><circle/><text>562</text></g><g id="n564" class="y4"><circle/><text>564</text></g><g id="n566" class="y6"><circle/><text>566</text></g><g id="n568" class="y8"><circle/><text>568</text></g><g id="n570" class="y10"><circle/><text>570</text></g><g id="n572" class="y12"><circle/><text>572</text></g><g id="n574" class="y14"><circle/><text>574</text></g><g id="n576" class="y16"><circle/><text>576</text></g><g id="n578" class="y18"><circle/><text>578</text></g><g id="n580" class="y20"><circle/><text>580</text></g><g id="n582" class="y22"><circle/><text>582</text></g><g id="n584" class="y24"><circle/><text>584</text></g><g id="n586" class="y26"><circle/><text>586</text></g><g id="n588" class="y28"><circle/><text>588</text></g><g id="n590" class="y30"><circle/><text>590</text></g><g id="n592" class="y32 r"><circle/><text>592</text></g><g id="n594" class="y34"><circle/><text>594</text></g><g id="n596" class="y36"><circle/><text>596</text></g><g id="n598" class="y38"><circle/><text>598</text></g>
</g>
<g transform="translate(787.26)">
<g id="n561" class="y1"><circle/><text>561</text></g><g id="n563" class="y3"><circle/><text>563</text></g><g id="n565" class="y5"><circle/><text>565</text></g><g id="n567" class="y7"><circle/><text>567</text></g><g id="n569" class="y9"><circle/><text>569</text></g><g id="n571" class="y11"><circle/><text>571</text></g><g id="n573" class="y13"><circle/><text>573</text></g><g id="n575" class="y15"><circle/><text>575</text></g><g id="n577" class="y17"><circle/><text>577</text></g><g id="n579" class="y19"><circle/><text>579</text></g><g id="n581" class="y21"><circle/><text>581</text></g><g id="n583" class="y23"><circle/><text>583</text></g><g id="n585" class="y25"><circle/><text>585</text></g><g id="n587" class="y27"><circle/><text>587</text></g><g id="n589" class="y29"><circle/><text>589</text></g><g id="n591" class="y31"><circle/><text>591</text></g><g id="n593" class="y33 r"><circle/><text>593</text></g><g id="n595" class="y35"><circle/><text>595</text></g><g id="n597" class="y37"><circle/><text>597</text></g><g id="n599" class="y39"><circle/><text>599</text></g>
</g>
<g transform="translate(827.02)">
<g id="n600" class="y0"><circle/><text>600</text></g><g id="n602" class="y2"><circle/><text>602</text></g><g id="n604" class="y4"><circle/><text>604</text></g><g id="n606" class="y6"><circle/><text>606</text></g><g id="n608" class="y8"><circle/><text>608</text></g><g id="n610" class="y10"><circle/><text>610</text></g><g id="n612" class="y12"><circle/><text>612</text></g><g id="n614" class="y14"><circle/><text>614</text></g><g id="n616" class="y16"><circle/><text>616</text></g><g id="n618" class="y18"><circle/><text>618</text></g><g id="n620" class="y20"><circle/><text>620</text></g><g id="n622" class="y22"><circle/><text>622</text></g><g id="n624" class="y24"><circle/><text>624</text></g><g id="n626" class="y26"><circle/><text>626</text></g><g id="n628" class="y28"><circle/><text>628</text></g><g id="n630" class="y30"><circle/><text>630</text></g><g id="n632" class="y32 r"><circle/><text>632</text></g><g id="n634" class="y34"><circle/><text>634</text></g><g id="n636" class="y36"><circle/><text>636</text></g><g id="n638" class="y38"><circle/><text>638</text></g>
</g>
<g transform="translate(840.27)">
<g id="n601" class="y1"><circle/><text>601</text></g><g id="n603" class="y3"><circle/><text>603</text></g><g id="n605" class="y5"><circle/><text>605</text></g><g id="n607" class="y7"><circle/><text>607</text></g><g id="n609" class="y9"><circle/><text>609</text></g><g id="n611" class="y11"><circle/><text>611</text></g><g id="n613" class="y13"><circle/><text>613</text></g><g id="n615" class="y15"><circle/><text>615</text></g><g id="n617" class="y17"><circle/><text>617</text></g><g id="n619" class="y19"><circle/><text>619</text></g><g id="n621" class="y21"><circle/><text>621</text></g><g id="n623" class="y23"><circle/><text>623</text></g><g id="n625" class="y25"><circle/><text>625</text></g><g id="n627" class="y27"><circle/><text>627</text></g><g id="n629" class="y29"><circle/><text>629</text></g><g id="n631" class="y31"><circle/><text>631</text></g><g id="n633" class="y33 r"><circle/><text>633</text></g><g id="n635" class="y35"><circle/><text>635</text></g><g id="n637" class="y37"><circle/><text>637</text></g><g id="n639" class="y39"><circle/><text>639</text></g>
</g>
<g transform="translate(880.02)">
<g id="n640" class="y0"><circle/><text>640</text></g><g id="n642" class="y2"><circle/><text>642</text></g><g id="n644" class="y4"><circle/><text>644</text></g><g id="n646" class="y6"><circle/><text>646</text></g><g id="n648" class="y8"><circle/><text>648</text></g><g id="n650" class="y10"><circle/><text>650</text></g><g id="n652" class="y12"><circle/><text>652</text></g><g id="n654" class="y14"><circle/><text>654</text></g><g id="n656" class="y16"><circle/><text>656</text></g><g id="n658" class="y18"><circle/><text>658</text></g><g id="n660" class="y20"><circle/><text>660</text></g><g id="n662" class="y22"><circle/><text>662</text></g><g id="n664" class="y24"><circle/><text>664</text></g><g id="n666" class="y26"><circle/><text>666</text></g><g id="n668" class="y28"><circle/><text>668</text></g><g id="n670" class="y30"><circle/><text>670</text></g><g id="n672" class="y32"><circle/><text>672</text></g><g id="n674" class="y34 r"><circle/><text>674</text></g><g id="n676" class="y36"><circle/><text>676</text></g><g id="n678" class="y38"><circle/><text>678</text></g>
</g>
<g transform="translate(866.77)">
<g id="n641" class="y1"><circle/><text>641</text></g><g id="n643" class="y3"><circle/><text>643</text></g><g id="n645" class="y5"><circle/><text>645</text></g><g id="n647" class="y7"><circle/><text>647</text></g><g id="n649" class="y9"><circle/><text>649</text></g><g id="n651" class="y11"><circle/><text>651</text></g><g id="n653" class="y13"><circle/><text>653</text></g><g id="n655" class="y15"><circle/><text>655</text></g><g id="n657" class="y17"><circle/><text>657</text></g><g id="n659" class="y19"><circle/><text>659</text></g><g id="n661" class="y21"><circle/><text>661</text></g><g id="n663" class="y23"><circle/><text>663</text></g><g id="n665" class="y25"><circle/><text>665</text></g><g id="n667" class="y27"><circle/><text>667</text></g><g id="n669" class="y29"><circle/><text>669</text></g><g id="n671" class="y31"><circle/><text>671</text></g><g id="n673" class="y33 r"><circle/><text>673</text></g><g id="n675" class="y35"><circle/><text>675</text></g><g id="n677" class="y37"><circle/><text>677</text></g><g id="n679" class="y39"><circle/><text>679</text></g>
</g>
<g transform="translate(906.53)">
<g id="n680" class="y0"><circle/><text>680</text></g><g id="n682" class="y2"><circle/><text>682</text></g><g id="n684" class="y4"><circle/><text>684</text></g><g id="n686" class="y6"><circle/><text>686</text></g><g id="n688" class="y8"><circle/><text>688</text></g><g id="n690" class="y10"><circle/><text>690</text></g><g id="n692" class="y12"><circle/><text>692</text></g><g id="n694" class="y14"><circle/><text>694</text></g><g id="n696" class="y16"><circle/><text>696</text></g><g id="n698" class="y18"><circle/><text>698</text></g><g id="n700" class="y20"><circle/><text>700</text></g><g id="n702" class="y22"><circle/><text>702</text></g><g id="n704" class="y24"><circle/><text>704</text></g><g id="n706" class="y26"><circle/><text>706</text></g><g id="n708" class="y28"><circle/><text>708</text></g><g id="n710" class="y30"><circle/><text>710</text></g><g id="n712" class="y32"><circle/><text>712</text></g><g id="n714" class="y34 r"><circle/><text>714</text></g><g id="n716" class="y36 r"><circle/><text>716</text></g><g id="n718" class="y38 r"><circle/><text>718</text></g>
</g>
<g transform="translate(919.78)">
<g id="n681" class="y1"><circle/><text>681</text></g><g id="n683" class="y3"><circle/><text>683</text></g><g id="n685" class="y5"><circle/><text>685</text></g><g id="n687" class="y7"><circle/><text>687</text></g><g id="n689" class="y9"><circle/><text>689</text></g><g id="n691" class="y11"><circle/><text>691</text></g><g id="n693" class="y13"><circle/><text>693</text></g><g id="n695" class="y15"><circle/><text>695</text></g><g id="n697" class="y17"><circle/><text>697</text></g><g id="n699" class="y19"><circle/><text>699</text></g><g id="n701" class="y21"><circle/><text>701</text></g><g id="n703" class="y23"><circle/><text>703</text></g><g id="n705" class="y25"><circle/><text>705</text></g><g id="n707" class="y27"><circle/><text>707</text></g><g id="n709" class="y29"><circle/><text>709</text></g><g id="n711" class="y31"><circle/><text>711</text></g><g id="n713" class="y33"><circle/><text>713</text></g><g id="n715" class="y35 r"><circle/><text>715</text></g><g id="n717" class="y37 r"><circle/><text>717</text></g><g id="n719" class="y39 r"><circle/><text>719</text></g>
</g>
<g transform="translate(959.53)">
<g id="n720" class="y0"><circle/><text>720</text></g><g id="n722" class="y2"><circle/><text>722</text></g><g id="n724" class="y4"><circle/><text>724</text></g><g id="n726" class="y6"><circle/><text>726</text></g><g id="n728" class="y8"><circle/><text>728</text></g><g id="n730" class="y10"><circle/><text>730</text></g><g id="n732" class="y12"><circle/><text>732</text></g><g id="n734" class="y14"><circle/><text>734</text></g><g id="n736" class="y16"><circle/><text>736</text></g><g id="n738" class="y18"><circle/><text>738</text></g><g id="n740" class="y20"><circle/><text>740</text></g><g id="n742" class="y22"><circle/><text>742</text></g><g id="n744" class="y24"><circle/><text>744</text></g><g id="n746" class="y26"><circle/><text>746</text></g><g id="n748" class="y28"><circle/><text>748</text></g><g id="n750" class="y30"><circle/><text>750</text></g><g id="n752" class="y32"><circle/><text>752</text></g><g id="n754" class="y34"><circle/><text>754</text></g><g id="n756" class="y36"><circle/><text>756</text></g><g id="n758" class="y38 r"><circle/><text>758</text></g>
</g>
<g transform="translate(946.28)">
<g id="n721" class="y1"><circle/><text>721</text></g><g id="n723" class="y3"><circle/><text>723</text></g><g id="n725" class="y5"><circle/><text>725</text></g><g id="n727" class="y7"><circle/><text>727</text></g><g id="n729" class="y9"><circle/><text>729</text></g><g id="n731" class="y11"><circle/><text>731</text></g><g id="n733" class="y13"><circle/><text>733</text></g><g id="n735" class="y15"><circle/><text>735</text></g><g id="n737" class="y17"><circle/><text>737</text></g><g id="n739" class="y19"><circle/><text>739</text></g><g id="n741" class="y21"><circle/><text>741</text></g><g id="n743" class="y23"><circle/><text>743</text></g><g id="n745" class="y25"><circle/><text>745</text></g><g id="n747" class="y27"><circle/><text>747</text></g><g id="n749" class="y29"><circle/><text>749</text></g><g id="n751" class="y31"><circle/><text>751</text></g><g id="n753" class="y33"><circle/><text>753</text></g><g id="n755" class="y35"><circle/><text>755</text></g><g id="n757" class="y37"><circle/><text>757</text></g><g id="n759" class="y39 r"><circle/><text>759</text></g>
</g>
<g transform="translate(986.04)">
<g id="n760" class="y0"><circle/><text>760</text></g><g id="n762" class="y2"><circle/><text>762</text></g><g id="n764" class="y4"><circle/><text>764</text></g><g id="n766" class="y6"><circle/><text>766</text></g><g id="n768" class="y8"><circle/><text>768</text></g><g id="n770" class="y10"><circle/><text>770</text></g><g id="n772" class="y12"><circle/><text>772</text></g><g id="n774" class="y14"><circle/><text>774</text></g><g id="n776" class="y16"><circle/><text>776</text></g><g id="n778" class="y18"><circle/><text>778</text></g><g id="n780" class="y20"><circle/><text>780</text></g><g id="n782" class="y22"><circle/><text>782</text></g><g id="n784" class="y24"><circle/><text>784</text></g><g id="n786" class="y26"><circle/><text>786</text></g><g id="n788" class="y28"><circle/><text>788</text></g><g id="n790" class="y30"><circle/><text>790</text></g><g id="n792" class="y32"><circle/><text>792</text></g><g id="n794" class="y34"><circle/><text>794</text></g><g id="n796" class="y36"><circle/><text>796</text></g><g id="n798" class="y38 r"><circle/><text>798</text></g>
</g>
<g transform="translate(999.29)">
<g id="n761" class="y1"><circle/><text>761</text></g><g id="n763" class="y3"><circle/><text>763</text></g><g id="n765" class="y5"><circle/><text>765</text></g><g id="n767" class="y7"><circle/><text>767</text></g><g id="n769" class="y9"><circle/><text>769</text></g><g id="n771" class="y11"><circle/><text>771</text></g><g id="n773" class="y13"><circle/><text>773</text></g><g id="n775" class="y15"><circle/><text>775</text></g><g id="n777" class="y17"><circle/><text>777</text></g><g id="n779" class="y19"><circle/><text>779</text></g><g id="n781" class="y21"><circle/><text>781</text></g><g id="n783" class="y23"><circle/><text>783</text></g><g id="n785" class="y25"><circle/><text>785</text></g><g id="n787" class="y27"><circle/><text>787</text></g><g id="n789" class="y29"><circle/><text>789</text></g><g id="n791" class="y31"><circle/><text>791</text></g><g id="n793" class="y33"><circle/><text>793</text></g><g id="n795" class="y35"><circle/><text>795</text></g><g id="n797" class="y37"><circle/><text>797</text></g>
</g>
</g>
<g id="tasks">
<text x="270.45" y="963.3">[1]</text>
<text x="270.45" y="924.1">[2]</text>
<text x="283.71" y="826.2">[3]</text>
<text x="429.47" y="767.5">[5]</text>
<text x="668" y="610.8">[3]</text>
<text x="668" y="571.7">[4]</text>
<text x="681.25" y="434.6">[5]</text>
<text x="747.51" y="415">[4]</text>
<text x="906.53" y="297.5">[2]</text>
<text x="946.28" y="238.8">[1]</text>
</g>
</svg>
